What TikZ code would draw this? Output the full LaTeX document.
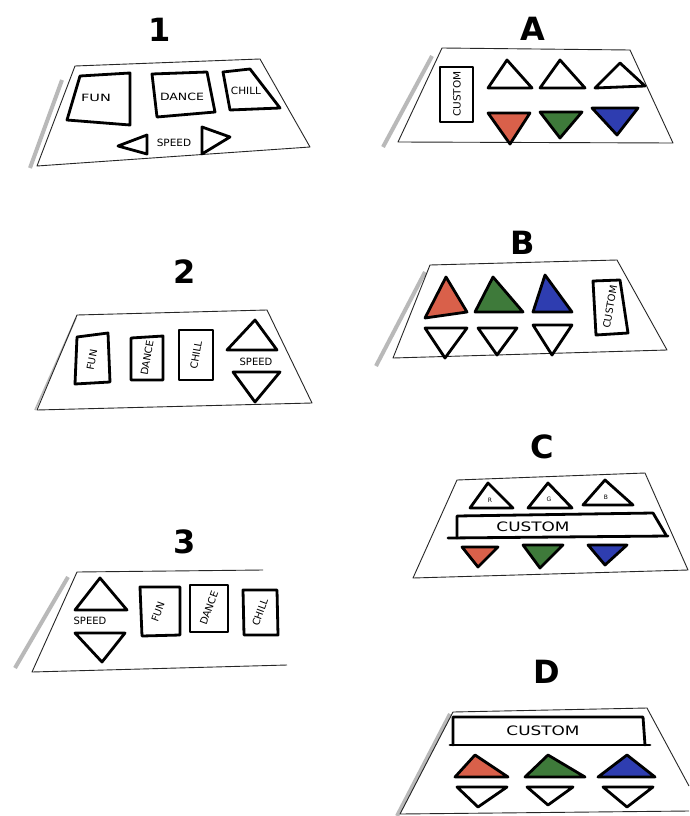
\documentclass[tikz,border=0pt]{standalone}
\usepackage{fontspec}
\setsansfont{DejaVu Sans}
\definecolor{mred}{HTML}{D9604A}
\definecolor{mgreen}{HTML}{3E7A3A}
\definecolor{mblue}{HTML}{2E3DB0}
\newcommand\hw[2]{\scalebox{#1}[1]{#2}}
\begin{document}
\begin{tikzpicture}[x=1pt,y=-1pt,
  panel/.style={draw=black!85, line width=0.9pt, line join=round},
  shade/.style={draw=gray!55, line width=4pt},
  thinshade/.style={draw=gray!55, line width=1.6pt},
  mk/.style={draw=black, line width=2.8pt, line join=round, line cap=round},
  mkf/.style={mk, fill=#1},
  lbl/.style={font=\sffamily\bfseries\fontsize{32}{32}\selectfont, inner sep=0pt},
  txt/.style={font=\sffamily\fontsize{10}{10}\selectfont, inner sep=0pt},
  stxt/.style={font=\sffamily\fontsize{6}{6}\selectfont, inner sep=0pt},
  btxt/.style={font=\sffamily\fontsize{13}{13}\selectfont, inner sep=0pt}]
\useasboundingbox (0,0) rectangle (689,816);
\fill[white] (0,0) rectangle (689,816);

% ---------- Panel 1 ----------
\node[lbl] (l1) at (160,30) {1};
\draw[shade] (62,80) -- (30,168);
\draw[panel] (75,66) -- (260,59) -- (310,147) -- (37,166) -- cycle;
\draw[mk] (80,76) -- (130,73) -- (130,125) -- (67,120) -- cycle;
\node[txt] (fun1) at (96,98) {\hw{1.45}{FUN}};
\draw[mk] (152,74) -- (207,72) -- (215,112) -- (157,117) -- cycle;
\node[txt] (dance1) at (182,97) {\hw{1.25}{DANCE}};
\draw[mk] (223,72) -- (250,69) -- (280,108) -- (230,110) -- cycle;
\node[txt] (chill1) at (246,91) {\hw{1.05}{CHILL}};
\draw[mk] (118,146) -- (147,135) -- (147,154) -- cycle;
\draw[mk] (202,127) -- (230,137) -- (202,154) -- cycle;
\node[txt] (speed1) at (174,143) {\hw{1.05}{SPEED}};

% ---------- Panel A ----------
\node[lbl] (lA) at (533,29) {A};
\draw[shade] (432,56) -- (383,147);
\draw[panel] (442,48) -- (630,50) -- (673,143) -- (398,142) -- cycle;
\draw[mk] (440,67) -- (473,67) -- (473,122) -- (440,122) -- cycle;
\node[txt, rotate=90] (cusA) at (457,94) {\hw{1.05}{CUSTOM}};
\draw[mk] (507,60) -- (532,88) -- (488,88) -- cycle;
\draw[mk] (560,60) -- (585,88) -- (540,88) -- cycle;
\draw[mk] (620,63) -- (645,86) -- (595,88) -- cycle;
\draw[mkf=mred] (488,113) -- (530,113) -- (510,144) -- cycle;
\draw[mkf=mgreen] (540,112) -- (582,112) -- (560,138) -- cycle;
\draw[mkf=mblue] (592,108) -- (638,108) -- (617,135) -- cycle;

% ---------- Panel 2 ----------
\node[lbl] (l2) at (185,272) {2};
\draw[thinshade] (76,318) -- (35,410);
\draw[panel] (77,315) -- (267,310) -- (312,403) -- (37,410) -- cycle;
\draw[mk] (77,337) -- (108,333) -- (110,382) -- (75,384) -- cycle;
\node[txt, rotate=80] (fun2) at (92,360) {FUN};
\draw[mk] (131,338) -- (163,336) -- (163,380) -- (131,380) -- cycle;
\node[txt, rotate=80] (dance2) at (147,358) {DANCE};
\draw[mk] (179,330) -- (213,330) -- (213,380) -- (179,380) -- cycle;
\node[txt, rotate=80] (chill2) at (196,355) {CHILL};
\draw[mk] (255,320) -- (277,350) -- (227,350) -- cycle;
\node[txt] (speed2) at (256,362) {SPEED};
\draw[mk] (233,372) -- (280,372) -- (255,402) -- cycle;

% ---------- Panel B ----------
\node[lbl] (lB) at (523,243) {B};
\draw[shade] (425,272) -- (376,366);
\draw[panel] (430,265) -- (617,260) -- (667,350) -- (393,358) -- cycle;
\draw[mkf=mred] (446,277) -- (467,312) -- (425,318) -- cycle;
\draw[mkf=mgreen] (493,277) -- (523,312) -- (475,312) -- cycle;
\draw[mkf=mblue] (545,275) -- (572,312) -- (533,312) -- cycle;
\draw[mk] (425,328) -- (467,328) -- (445,358) -- cycle;
\draw[mk] (478,328) -- (517,328) -- (497,355) -- cycle;
\draw[mk] (533,325) -- (572,325) -- (552,355) -- cycle;
\draw[mk] (593,281) -- (620,280) -- (628,333) -- (596,335) -- cycle;
\node[txt, rotate=80] (cusB) at (610,307) {CUSTOM};

% ---------- Panel C ----------
\node[lbl] (lC) at (542,447) {C};
\draw[panel] (457,480) -- (645,473) -- (688,570) -- (413,578) -- cycle;
\draw[mk] (488,483) -- (513,508) -- (470,508) -- cycle;
\node[stxt] (rC) at (490,500) {R};
\draw[mk] (548,483) -- (572,508) -- (528,508) -- cycle;
\node[stxt] (gC) at (549,499) {G};
\draw[mk] (605,480) -- (633,505) -- (583,505) -- cycle;
\node[stxt] (bC) at (606,497) {B};
\draw[mk] (457,538) -- (457,516) -- (653,513) -- (666,535);
\draw[mk] (448,538) -- (668,536);
\node[btxt] (cusC) at (533,527) {\hw{1.3}{CUSTOM}};
\draw[mkf=mred] (462,547) -- (498,547) -- (478,567) -- cycle;
\draw[mkf=mgreen] (523,545) -- (563,545) -- (540,568) -- cycle;
\draw[mkf=mblue] (588,545) -- (627,545) -- (605,565) -- cycle;

% ---------- Panel 3 ----------
\node[lbl] (l3) at (185,542) {3};
\draw[shade] (68,577) -- (15,668);
\draw[panel] (263,570) -- (77,572) -- (32,672) -- (287,665);
\draw[mk] (100,578) -- (127,610) -- (75,610) -- cycle;
\node[txt] (speed3) at (90,621) {SPEED};
\draw[mk] (75,633) -- (125,633) -- (102,662) -- cycle;
\draw[mk] (140,587) -- (180,587) -- (180,635) -- (142,636) -- cycle;
\node[txt, rotate=70] (fun3) at (158,612) {FUN};
\draw[mk] (190,585) -- (228,585) -- (228,632) -- (190,632) -- cycle;
\node[txt, rotate=70] (dance3) at (209,608) {DANCE};
\draw[mk] (243,590) -- (277,590) -- (278,635) -- (244,635) -- cycle;
\node[txt, rotate=70] (chill3) at (260,612) {CHILL};

% ---------- Panel D ----------
\node[lbl] (lD) at (547,672) {D};
\draw[shade] (450,714) -- (397,816);
\draw[panel] (689,786) -- (647,708) -- (453,712) -- (400,814) -- (689,811);
\draw[mk] (453,745) -- (453,717) -- (643,717) -- (645,745);
\draw[mk] (450,745) -- (650,745);
\node[btxt] (cusD) at (543,731) {\hw{1.3}{CUSTOM}};
\draw[mkf=mred] (475,755) -- (508,777) -- (455,777) -- cycle;
\draw[mkf=mgreen] (548,755) -- (585,777) -- (525,777) -- cycle;
\draw[mkf=mblue] (627,755) -- (655,777) -- (598,777) -- cycle;
\draw[mk] (457,787) -- (507,787) -- (478,807) -- cycle;
\draw[mk] (527,787) -- (573,787) -- (548,805) -- cycle;
\draw[mk] (603,787) -- (653,787) -- (627,807) -- cycle;
\end{tikzpicture}
\end{document}
